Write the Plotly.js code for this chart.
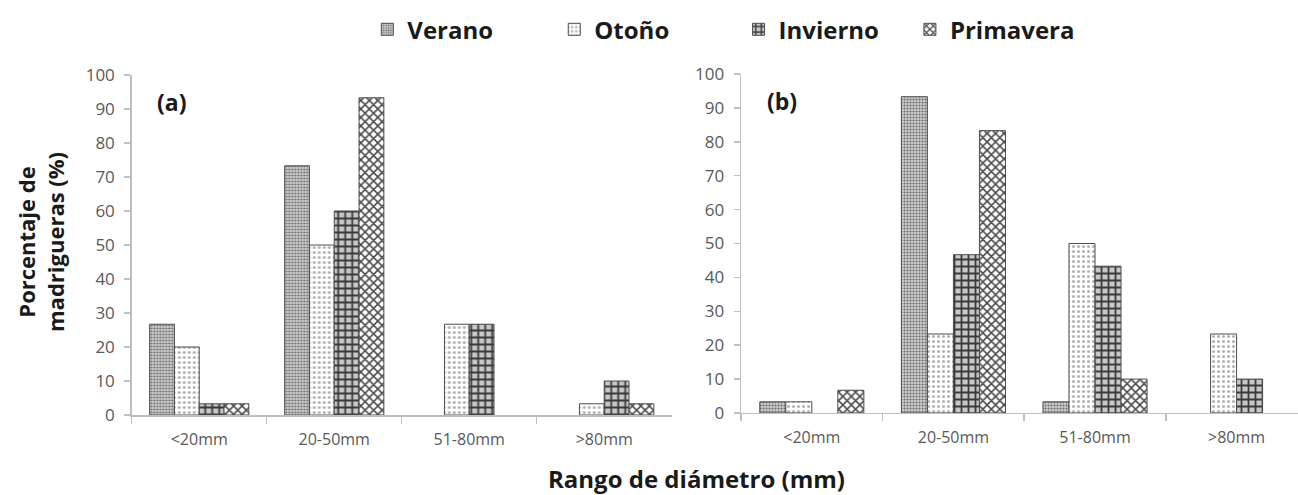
<!DOCTYPE html>
<html>
<head>
<meta charset="utf-8">
<script src="https://cdn.plot.ly/plotly-3.0.1.min.js"></script>
<style>html,body{margin:0;padding:0;background:#fff;}#chart{width:1298px;height:495px;}</style>
</head>
<body>
<div id="chart"></div>
<script>
// ---- data ----
const categories = ['<20mm', '20-50mm', '51-80mm', '>80mm'];
const seasons = ['Verano', 'Otoño', 'Invierno', 'Primavera'];

// Panel (a)
const aVerano    = [26.7, 73.3, 0, 0];
const aOtono     = [20, 50, 26.7, 3.3];
const aInvierno  = [3.3, 60, 26.7, 10];
const aPrimavera = [3.3, 93.3, 0, 3.3];

// Panel (b)
const bVerano    = [3.3, 93.3, 3.3, 0];
const bOtono     = [3.3, 23.3, 50, 23.3];
const bInvierno  = [0, 46.7, 43.3, 10];
const bPrimavera = [6.7, 83.3, 10, 0];

const yTicks = [0, 10, 20, 30, 40, 50, 60, 70, 80, 90, 100];

// ---- styles ----
const patterns = {
  'Verano':    {shape: '.', bgcolor: '#cfcfcf', fgcolor: '#6a6a6a', size: 3, solidity: 0.4},
  'Otoño':     {shape: '.', bgcolor: '#ffffff', fgcolor: '#b4b4b4', size: 5, solidity: 0.3},
  'Invierno':  {shape: '+', bgcolor: '#c8c8c8', fgcolor: '#3a3a3a', size: 7, solidity: 0.45},
  'Primavera': {shape: 'x', bgcolor: '#ffffff', fgcolor: '#4a4a4a', size: 6, solidity: 0.45}
};
const legendIds = ['legend', 'legend2', 'legend3', 'legend4'];

const aData = [aVerano, aOtono, aInvierno, aPrimavera];
const bData = [bVerano, bOtono, bInvierno, bPrimavera];

function makeTrace(s, vals, xa, ya, legendId, show) {
  return {
    type: 'bar', name: s, x: categories, y: vals,
    xaxis: xa, yaxis: ya, legend: legendId, showlegend: show,
    marker: {
      color: patterns[s].bgcolor, pattern: patterns[s],
      line: {color: '#4d4d4d', width: vals.map(v => (v > 0 ? 1 : 0))}
    },
    hoverinfo: 'skip'
  };
}

const traces = [];
seasons.forEach((s, i) => traces.push(makeTrace(s, aData[i], 'x', 'y', legendIds[i], true)));
seasons.forEach((s, i) => traces.push(makeTrace(s, bData[i], 'x2', 'y2', legendIds[i], false)));

const tickFont = {family: 'Open Sans', size: 16, color: '#595959'};
const axisColor = '#bfbfbf';

function xAxis(domain, range, anchor) {
  return {
    domain: domain, range: range, anchor: anchor, type: 'category',
    showline: true, linecolor: axisColor, linewidth: 1.5,
    ticks: 'outside', tickson: 'boundaries', ticklen: 7, tickcolor: axisColor, tickwidth: 1.5,
    showgrid: false, zeroline: false, tickfont: tickFont, ticklabelstandoff: 9, fixedrange: true
  };
}
function yAxis(domain, anchor) {
  return {
    domain: domain, range: [0, 100], anchor: anchor,
    tickvals: yTicks, ticktext: yTicks.map(String),
    showline: true, linecolor: axisColor, linewidth: 1.5,
    ticks: 'outside', ticklen: 6, tickcolor: axisColor, tickwidth: 1.5,
    showgrid: false, zeroline: false, tickfont: {family: 'Open Sans', size: 17, color: '#595959'},
    ticklabelstandoff: 6, fixedrange: true
  };
}

const legFont = {family: 'Open Sans', size: 24, color: '#1a1a1a', weight: 'bold'};
function leg(x) {
  return {x: x, y: 0.94, xanchor: 'left', yanchor: 'middle', orientation: 'h',
          font: legFont, bgcolor: 'rgba(0,0,0,0)', borderwidth: 0};
}

const boldFont = (size) => ({family: 'Open Sans', size: size, color: '#1a1a1a', weight: 'bold'});

const layout = {
  width: 1298, height: 495,
  margin: {l: 0, r: 0, t: 0, b: 0},
  paper_bgcolor: '#ffffff', plot_bgcolor: '#ffffff',
  barmode: 'group', bargap: 0.265, bargroupgap: 0,
  xaxis: xAxis([0.1015, 0.5175], [-0.5, 3.5], 'y'),
  yaxis: yAxis([0.1616, 0.8485], 'x'),
  xaxis2: xAxis([0.5709, 1.0], [-0.5, 3.4336], 'y2'),
  yaxis2: yAxis([0.1657, 0.8505], 'x2'),
  legend: leg(0.283),
  legend2: leg(0.427),
  legend3: leg(0.569),
  legend4: leg(0.701),
  annotations: [
    {text: '(a)', x: 171 / 1298, y: (495 - 102) / 495, xref: 'paper', yref: 'paper',
     xanchor: 'center', yanchor: 'middle', showarrow: false, font: boldFont(23)},
    {text: '(b)', x: 782 / 1298, y: (495 - 101) / 495, xref: 'paper', yref: 'paper',
     xanchor: 'center', yanchor: 'middle', showarrow: false, font: boldFont(23)},
    {text: 'Rango de diámetro (mm)', x: 696 / 1298, y: (495 - 478) / 495, xref: 'paper', yref: 'paper',
     xanchor: 'center', yanchor: 'middle', showarrow: false, font: boldFont(24)},
    {text: 'Porcentaje de<br>madrigueras (%)', x: 40 / 1298, y: (495 - 242) / 495, xref: 'paper', yref: 'paper',
     xanchor: 'center', yanchor: 'middle', textangle: -90, showarrow: false, font: boldFont(22)}
  ]
};

Plotly.newPlot('chart', traces, layout, {staticPlot: true, displayModeBar: false});
</script>
</body>
</html>
